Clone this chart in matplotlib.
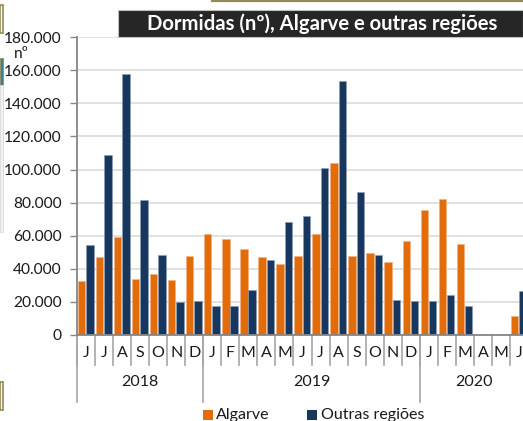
import matplotlib
matplotlib.use("Agg")
import matplotlib.pyplot as plt
from matplotlib.patches import Rectangle
from matplotlib.lines import Line2D
import numpy as np

plt.rcParams['font.family'] = ['Lato', 'DejaVu Sans']

months = ["J", "J", "A", "S", "O", "N", "D",
          "J", "F", "M", "A", "M", "J", "J", "A", "S", "O", "N", "D",
          "J", "F", "M", "A", "M", "J"]
years = ["2018", "2019", "2020"]
year_counts = [7, 12, 6]

algarve = [32700, 47200, 58900, 33900, 36500, 32900, 47600,
           60900, 57900, 51800, 47200, 42800, 47600, 60700, 104200, 47600, 49200, 44000, 56700,
           75800, 82000, 55000, 0, 0, 11400]
outras = [54300, 109000, 158000, 81400, 48400, 20000, 20400,
          17400, 17400, 27000, 45200, 68000, 72000, 101000, 153300, 86100, 48000, 21000, 20600,
          20600, 24000, 17400, 0, 0, 26700]
yticks = [0, 20000, 40000, 60000, 80000, 100000, 120000, 140000, 160000, 180000]
ytick_labels = ["0", "20.000", "40.000", "60.000", "80.000", "100.000",
                "120.000", "140.000", "160.000", "180.000"]

ORANGE = "#E36C0A"
NAVY = "#17375E"
TXT = "#1a1a1a"
W, H = 523, 421

fig = plt.figure(figsize=(W / 100, H / 100), dpi=100)
ax_left, ax_bottom_px, ax_right, ax_top_px = 77, 334.8, 528, 37.3
ax = fig.add_axes([ax_left / W, (H - ax_bottom_px) / H,
                   (ax_right - ax_left) / W, (ax_bottom_px - ax_top_px) / H])

x = np.arange(len(months))
ax.bar(x - 0.25, algarve, width=0.41, color=ORANGE, edgecolor="#F4B183", linewidth=0.4, zorder=3)
ax.bar(x + 0.21, outras, width=0.41, color=NAVY, edgecolor="#8DA0B8", linewidth=0.4, zorder=3)

ax.set_xlim(-0.5, len(months) - 0.5)
ax.set_ylim(0, 180000)
ax.set_yticks(yticks)
ax.set_yticklabels(ytick_labels, fontsize=11.2, color=TXT)
ax.yaxis.grid(True, color="#D9D9D9", linewidth=1.1, zorder=0)
ax.set_axisbelow(True)
ax.tick_params(axis="y", length=5, width=1, color="#868686", pad=6)
ax.set_xticks([])
for s in ["top", "right"]:
    ax.spines[s].set_visible(False)
ax.spines["left"].set_color("#868686")
ax.spines["left"].set_linewidth(1.3)
ax.spines["bottom"].set_color("#868686")
ax.spines["bottom"].set_linewidth(1.3)
ax.spines["bottom"].set_zorder(4)

# multi-level category axis
axh = ax_bottom_px - ax_top_px
def yax(ypix):
    return (ax_bottom_px - ypix) / axh

tr = ax.get_xaxis_transform()
for i, m in enumerate(months):
    ax.text(i, yax(352.7), m, transform=tr, ha="center", va="center",
            fontsize=11.5, color=TXT, clip_on=False)
for b in range(len(months) + 1):
    ax.add_line(Line2D([b - 0.5, b - 0.5], [0, yax(365)], transform=tr,
                       color="#A6A6A6", linewidth=1.2, clip_on=False))
start = 0
for yname, cnt in zip(years, year_counts):
    ax.add_line(Line2D([start - 0.5, start - 0.5], [0, yax(402)], transform=tr,
                       color="#A6A6A6", linewidth=1.2, clip_on=False))
    ax.text(start + cnt / 2 - 0.5, yax(382), yname, transform=tr, ha="center", va="center",
            fontsize=11.5, color=TXT, clip_on=False)
    start += cnt

# unit label
fig.text(21 / W, (H - 54) / H, "nº", ha="center", va="center", fontsize=11.2, color=TXT)

# title box
fig.patches.append(Rectangle((118 / W, (H - 37) / H), (523 - 118) / W, 27 / H,
                             transform=fig.transFigure, facecolor="#262626",
                             edgecolor="#BFBFBF", linewidth=0.8, zorder=5))
fig.text(322 / W, (H - 23.5) / H, "Dormidas (nº), Algarve e outras regiões",
         ha="center", va="center", fontsize=14.6, fontweight="bold", color="white", zorder=6)

# top decorative line
fig.add_artist(Line2D([212 / W, 1], [1 - 0.8 / H, 1 - 0.8 / H], transform=fig.transFigure,
                      color="#948A54", linewidth=1.6))
# left-edge decorations
fig.patches.append(Rectangle((0, (H - 33) / H), 3 / W, 28 / H, transform=fig.transFigure,
                             facecolor="#FFFFFF", edgecolor="#948A54", linewidth=1.2))
fig.patches.append(Rectangle((0, (H - 85) / H), 3 / W, 27 / H, transform=fig.transFigure,
                             facecolor="#31859C", edgecolor="#948A54", linewidth=0.6))
fig.patches.append(Rectangle((0, (H - 232) / H), 3 / W, 147 / H, transform=fig.transFigure,
                             facecolor="#F2F2F2", edgecolor="#D9D9D9", linewidth=0.6))
fig.patches.append(Rectangle((0, (H - 410) / H), 3 / W, 28 / H, transform=fig.transFigure,
                             facecolor="#F8F6EE", edgecolor="#948A54", linewidth=1.2))

# legend
ly = (H - 415) / H
fig.patches.append(Rectangle((203 / W, ly - 5 / H), 10 / W, 10 / H, transform=fig.transFigure,
                             facecolor=ORANGE, edgecolor="none"))
fig.text(216 / W, ly, "Algarve", ha="left", va="center", fontsize=11.5, color=TXT)
fig.patches.append(Rectangle((307 / W, ly - 5 / H), 10 / W, 10 / H, transform=fig.transFigure,
                             facecolor=NAVY, edgecolor="none"))
fig.text(321 / W, ly, "Outras regiões", ha="left", va="center", fontsize=11.5, color=TXT)

fig.savefig("out.png", dpi=100)
